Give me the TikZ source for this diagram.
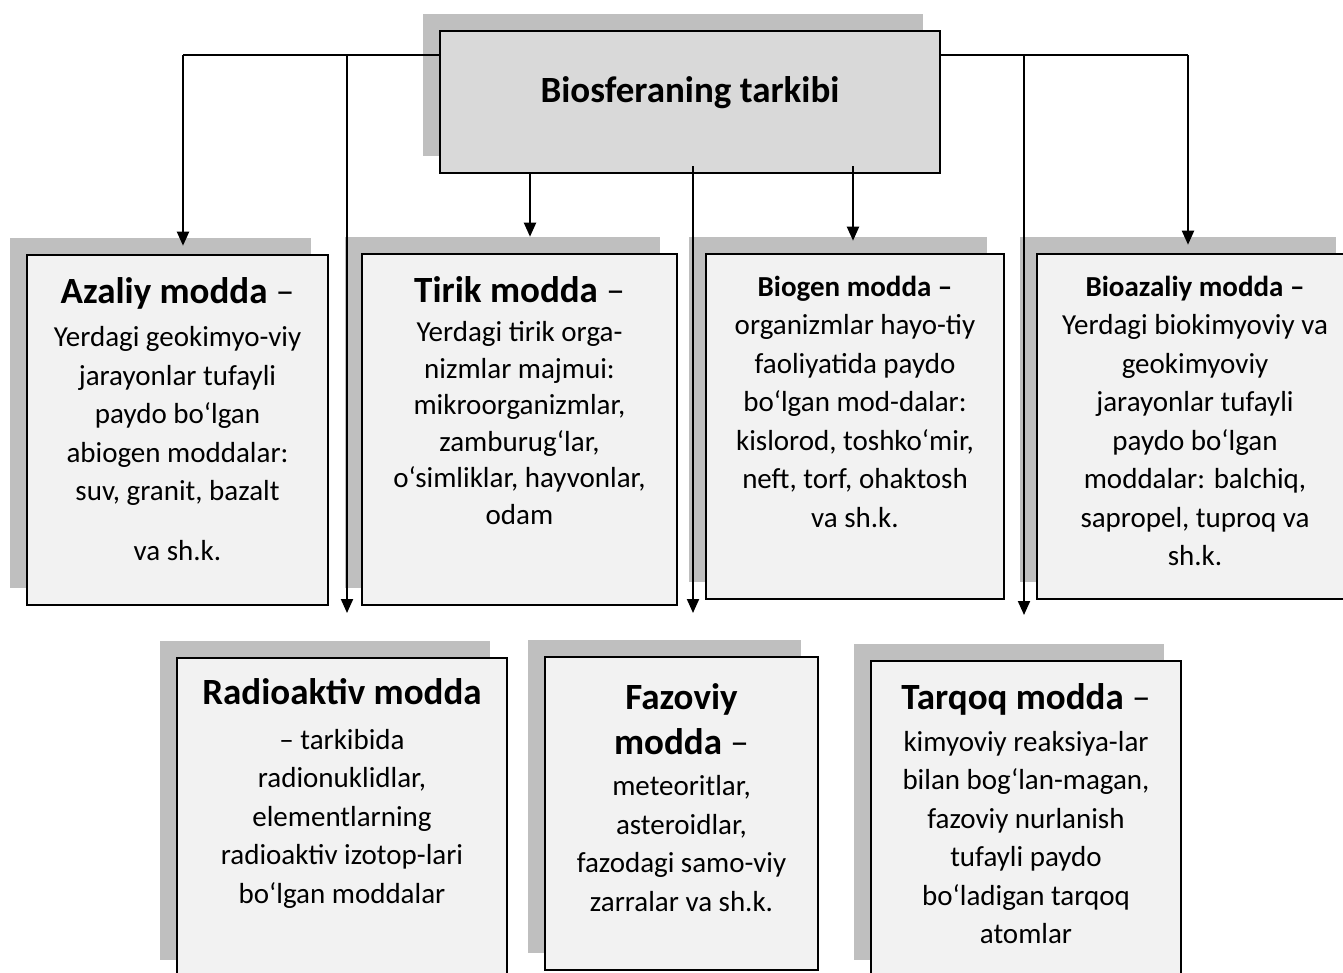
\documentclass[tikz,border=0pt]{standalone}
\usepackage{fontspec}
\setmainfont{Carlito}
\usetikzlibrary{shadows,fit,arrows.meta}

\definecolor{boxfill}{HTML}{F2F2F2}
\definecolor{titlefill}{HTML}{D9D9D9}
\definecolor{shade}{HTML}{BFBFBF}

\newcommand\bigbold{\fontsize{37}{44}\selectfont\bfseries}
\newcommand\bigplain{\fontsize{37}{44}\selectfont}
\newcommand\smallbold{\fontsize{29}{38.5}\selectfont\bfseries}
\newcommand\bodytext{\fontsize{29}{38.5}\selectfont}

\begin{document}
\begin{tikzpicture}[x=1pt,y=-1pt,
  card/.style={draw=black, line width=2.6pt, fill=boxfill, inner sep=0pt, fit={#1},
    general shadow={fill=shade, shadow xshift=-17pt, shadow yshift=17pt}},
  txt/.style={anchor=north, inner sep=0pt, align=center, font=\bodytext},
  wire/.style={line width=2pt},
  arrow/.style={line width=2pt, -{Triangle[length=14pt,width=12pt]}}]

\useasboundingbox (0,0) rectangle (1343,972);
\clip (0,0) rectangle (1343,972);

% root box
\node[card={(440,31) (940,173)}, fill=titlefill] (title) {};
\node[inner sep=0pt, font=\bigbold] (titletext) at (690,93) {Biosferaning tarkibi};

% upper row
\node[card={(27,255) (328,605)}] (azaliy) {};
\node[txt] (azaliytext) at (177.5,277)
  {{\bigbold Azaliy modda}{\bigplain\ –}\\[5pt]
   Yerdagi geokimyo-viy\\ jarayonlar tufayli\\ paydo bo‘lgan\\
   abiogen moddalar:\\ suv, granit, bazalt\\[21.5pt] va sh.k.};

\node[card={(362,254) (677,605)}] (tirik) {};
\node[txt, font={\fontsize{29}{36.5}\selectfont}] (tiriktext) at (519.5,276)
  {{\bigbold Tirik modda}{\bigplain\ –}\\[3pt]
   Yerdagi tirik orga-\\ nizmlar majmui:\\ mikroorganizmlar,\\
   zamburug‘lar,\\ o‘simliklar, hayvonlar,\\ odam};

\node[card={(706,254) (1004,599)}] (biogen) {};
\node[txt] (biogentext) at (855,275.5)
  {{\smallbold Biogen modda –}\\
   organizmlar hayo-tiy\\ faoliyatida paydo\\ bo‘lgan mod-dalar:\\
   kislorod, toshko‘mir,\\ neft, torf, ohaktosh\\ va sh.k.};

\node[card={(1037,254) (1353,599)}] (bioazaliy) {};
\node[txt] (bioazaliytext) at (1195,275.5)
  {{\smallbold Bioazaliy modda –}\\
   Yerdagi biokimyoviy va\\ geokimyoviy\\ jarayonlar tufayli\\
   paydo bo‘lgan\\ moddalar: balchiq,\\ sapropel, tuproq va\\ sh.k.};

% lower row
\node[card={(177,658) (507,977)}] (radio) {};
\node[txt] (radiotext) at (342,678.5)
  {{\bigbold Radioaktiv modda}\\[6pt]
   – tarkibida\\ radionuklidlar,\\ elementlarning\\
   radioaktiv izotop-lari\\ bo‘lgan moddalar};

\node[card={(545,657) (818,970)}] (fazoviy) {};
\node[txt] (fazoviytext) at (681.5,683.5)
  {{\bigbold Fazoviy}\\[6.7pt] {\bigbold modda}{\bigplain\ –}\\[2.5pt]
   meteoritlar,\\ asteroidlar,\\ fazodagi samo-viy\\ zarralar va sh.k.};

\node[card={(871,661) (1181,977)}] (tarqoq) {};
\node[txt] (tarqoqtext) at (1026,683)
  {{\bigbold Tarqoq modda}{\bigplain\ –}\\[3.5pt]
   kimyoviy reaksiya-lar\\ bilan bog‘lan-magan,\\ fazoviy nurlanish\\
   tufayli paydo\\ bo‘ladigan tarqoq\\ atomlar};

% branch points and open arrow ends
\coordinate (jl) at (183,55);
\coordinate (jl2) at (347,55);
\coordinate (jr2) at (1024,55);
\coordinate (jr) at (1188,55);
\coordinate (cT) at (530,0);
\coordinate (cB) at (853,0);
\coordinate (cM) at (693,0);
\coordinate (endA) at (347,613);
\coordinate (endB) at (693,613);
\coordinate (endC) at (1024,615);

% connectors
\draw[wire] (title.west |- jl) -- (jl);
\draw[wire] (title.east |- jr) -- (jr);
\draw[arrow, shorten >=8pt] (jl) -- (jl |- azaliy.north);
\draw[arrow] (jl2) -- (endA);
\draw[arrow] (jr2) -- (endC);
\draw[arrow, shorten >=8pt] (jr) -- (jr |- bioazaliy.north);
\draw[arrow, shorten >=16pt] (title.south -| cT) -- (cT |- tirik.north);
\draw[arrow] ([yshift=8pt]title.south -| cM) -- (endB);
\draw[arrow, shorten >=12pt] ([yshift=8pt]title.south -| cB) -- (cB |- biogen.north);
\end{tikzpicture}
\end{document}
